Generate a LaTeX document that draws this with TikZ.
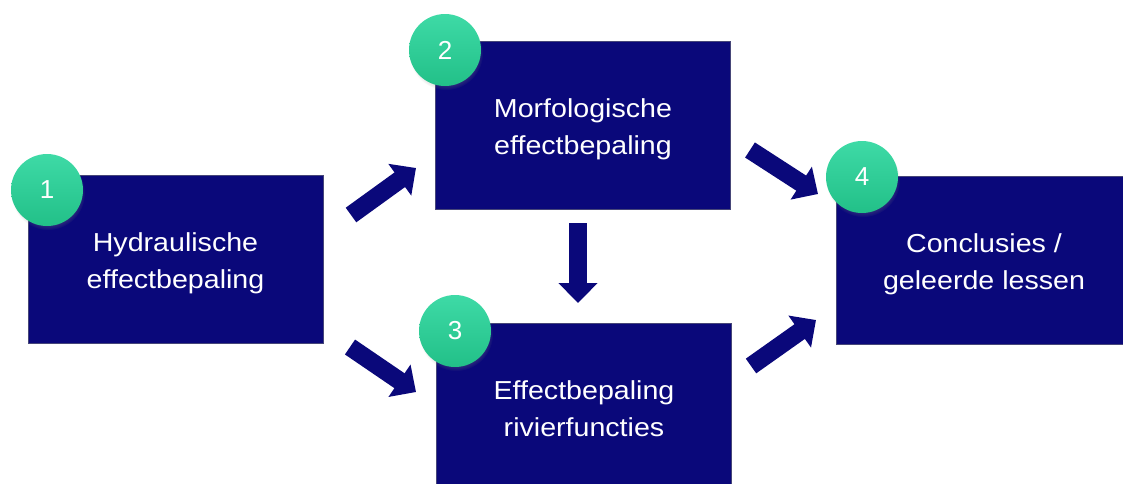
\documentclass[tikz,border=0pt]{standalone}
\usepackage{fontspec}
\setmainfont{Liberation Sans}
\usetikzlibrary{arrows.meta,shadows}
\definecolor{navy}{RGB}{10,8,122}
\definecolor{navyedge}{RGB}{70,70,120}
\definecolor{mintlight}{RGB}{62,218,166}
\definecolor{mintdark}{RGB}{34,192,136}
\newcommand\widetext[2]{\raisebox{-4pt}[\height][\depth]{\scalebox{1.1}[1]{\begin{tabular}{@{}c@{}}#1\\#2\end{tabular}}}}
\tikzset{
  box/.style={draw=navyedge, line width=0.6pt, fill=navy, text=white, minimum width=295pt, minimum height=168pt, inner sep=0pt, align=center, font=\fontsize{26}{37}\selectfont},
  badge/.style={circle, minimum size=72pt, inner sep=0pt, top color=mintlight, bottom color=mintdark, draw=none, text=white, font=\fontsize{26}{28}\selectfont, circular drop shadow={shadow xshift=1pt, shadow yshift=-3pt, opacity=0.3, shadow scale=1.03}},
  flow/.style={draw=navy, line width=18pt, -{Triangle[length=20pt,width=38pt]}},
}
\begin{document}
\begin{tikzpicture}[x=1pt,y=-1pt]
\useasboundingbox (0,0) rectangle (1123,483);
\clip (0,0) rectangle (1123,483);
\node[box] (b1) at (175.5,259) {\widetext{Hydraulische}{effectbepaling}};
\node[box] (b2) at (583,125) {\widetext{Morfologische}{effectbepaling}};
\node[box] (b3) at (584,407) {\widetext{Effectbepaling}{rivierfuncties}};
\node[box] (b4) at (984,260) {\widetext{Conclusies /}{geleerde lessen}};
\node[badge] (c1) at (47,190) {1};
\node[badge] (c2) at (445,50) {2};
\node[badge] (c3) at (455,331) {3};
\node[badge] (c4) at (862,177) {4};
\coordinate (a1s) at (351,215);
\coordinate (a1e) at (416,168);
\coordinate (a2s) at (350,347);
\coordinate (a2e) at (416,392);
\coordinate (a3s) at (578,223);
\coordinate (a3e) at (578,303);
\coordinate (a4s) at (750,150);
\coordinate (a4e) at (818,194);
\coordinate (a5s) at (751,366);
\coordinate (a5e) at (816,320);
\draw[flow] (a1s) -- (a1e);
\draw[flow] (a2s) -- (a2e);
\draw[flow] (a3s) -- (a3e);
\draw[flow] (a4s) -- (a4e);
\draw[flow] (a5s) -- (a5e);
\end{tikzpicture}
\end{document}
